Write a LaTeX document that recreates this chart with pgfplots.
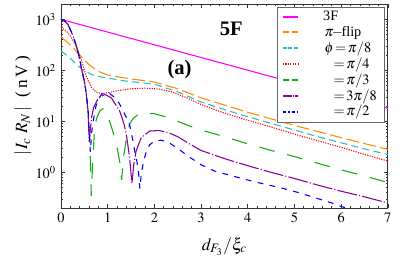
\documentclass[border=0pt]{standalone}
\usepackage{mathptmx}
\usepackage{fontspec}
\setmainfont{Liberation Serif}
\usepackage{pgfplots}
\pgfplotsset{compat=1.18}
\definecolor{cmag}{RGB}{255,0,255}
\definecolor{corange}{RGB}{255,140,0}
\definecolor{ccyan}{RGB}{40,190,200}
\definecolor{cred}{RGB}{255,0,0}
\definecolor{cgreen}{RGB}{20,170,20}
\definecolor{cpurple}{RGB}{140,0,150}
\definecolor{cblue}{RGB}{0,0,255}
\begin{document}
\begin{tikzpicture}
\path[use as bounding box] (-42.6pt,-39pt) rectangle (247.5pt,145.4pt);
\begin{axis}[
  at={(0,0)}, anchor=south west,
  scale only axis, width=228.5pt, height=142.6pt,
  xmin=0, xmax=7, ymin=0.2, ymax=2000,
  ymode=log,
  xtick={0,1,2,3,4,5,6,7},
  minor x tick num=4,
  tick align=inside,
  major tick length=3pt, minor tick length=1.5pt,
  tick style={black!80, line width=0.4pt},
  axis line style={black!80, line width=0.6pt},
  xlabel={$d_{F_3}/\xi_c$},
  ylabel={$|\,I_c\;R_N\,|$\;\;(\,n\,V\,)},
  xlabel style={font=\large, yshift=-3pt},
  ylabel style={font=\large, yshift=-4pt},
  tick label style={font=\normalsize},
  legend style={at={(1,1)}, anchor=north east, xshift=-2pt, yshift=-2pt,
    draw=black!60, font=\normalsize, row sep=-1.8pt, inner ysep=1pt, inner xsep=3.5pt},
  legend cell align=left,
  legend image code/.code={\draw[#1, line width=1.15pt] (0pt,0pt) -- (10.5pt,0pt);},
  every axis plot/.append style={line width=0.75pt},
]
% 3F
\addplot[color=cmag, solid] coordinates {(0,1000) (7,18)};
\addlegendentry{\hspace{15pt}3F}
% pi-flip
\addplot[color=corange, dash pattern=on 9pt off 3pt,
  legend image post style={dash pattern=on 4.5pt off 1.5pt}] coordinates {
(0,457) (0.2,316) (0.4,200) (0.6,129) (0.8,95.5) (1.0,81.3) (1.3,72.4) (1.6,66.1)
(2.0,58.9) (2.5,43.7) (3.0,28.8) (3.5,20.9) (4.0,15.1) (4.5,11.2) (5.0,8.32)
(5.5,6.31) (6.0,4.79) (6.5,3.67) (7.0,2.82)};
\addlegendentry{\hspace{16pt}$\pi\!-\!$flip}
% phi = pi/8
\addplot[color=ccyan, dash pattern=on 5pt off 3pt,
  legend image post style={dash pattern=on 2.6pt off 1.2pt}] coordinates {
(0,240) (0.15,191) (0.3,141) (0.45,105) (0.65,83.2) (0.8,75.9) (1.0,70.8) (1.3,63.1)
(1.6,58.9) (2.0,53.7) (2.5,38.0) (3.0,24.0) (3.5,17.0) (4.0,12.3) (4.5,9.12)
(5.0,6.76) (5.5,5.01) (6.0,3.80) (6.5,2.88) (7.0,2.24)};
\addlegendentry{\hspace{16pt}$\phi\!=\!\pi/8$}
% pi/4
\addplot[color=cred, dash pattern=on 0.8pt off 0.9pt] coordinates {
(0,692) (0.15,550) (0.3,339) (0.43,166) (0.54,77.6) (0.65,46.8) (0.75,38.0) (0.85,35.1)
(1.0,36.3) (1.2,39.8) (1.5,43.5) (1.8,44.7) (2.1,43.0) (2.4,37.2) (2.7,28.8)
(3.0,21.4) (3.5,14.5) (4.0,10.5) (4.5,7.76) (5.0,5.62) (5.5,4.17) (6.0,3.09)
(6.5,2.26) (7.0,1.66)};
\addlegendentry{\hspace{16pt}\phantom{$\phi$}$=\!\pi/4$}
% pi/3
\addplot[color=cgreen, dash pattern=on 11pt off 9pt,
  legend image post style={dash pattern=on 4.2pt off 2pt}] coordinates {
(0,1000) (0.05,966) (0.1,891) (0.15,794) (0.2,631) (0.26,468) (0.33,302) (0.38,204)
(0.43,120) (0.5,61.7) (0.54,36.3) (0.58,15.8) (0.62,3.98) (0.65,0.347) (0.68,1.58)
(0.72,7.08) (0.76,11.2) (0.83,15.8) (0.9,17.8) (0.97,15.1) (1.05,9.55) (1.12,6.03)
(1.2,3.16) (1.26,1.58) (1.3,0.708) (1.34,2.0) (1.4,4.47) (1.47,8.91) (1.55,11.5)
(1.65,13.5) (1.8,14.5) (2.0,14.1) (2.2,12.6) (2.5,10.0) (2.75,8.13) (3.0,6.76)
(3.5,5.01) (4.0,3.63) (4.5,2.69) (5.0,2.04) (5.5,1.51) (6.0,1.12) (6.5,0.851)
(7.0,0.631)};
\addlegendentry{\hspace{16pt}\phantom{$\phi$}$=\!\pi/3$}
% 3pi/8
\addplot[color=cpurple, dash pattern=on 14pt off 1.5pt on 0.8pt off 1.5pt,
  legend image post style={dash pattern=on 6pt off 0.8pt on 0.6pt off 0.8pt}] coordinates {
(0,1000) (0.05,966) (0.1,891) (0.15,794) (0.2,631) (0.26,468) (0.33,302) (0.38,204)
(0.43,120) (0.5,61.7) (0.54,36.3) (0.58,15.8) (0.605,3.98) (0.63,7.08) (0.66,12.6)
(0.7,18.6) (0.8,28.8) (0.94,33.9) (1.08,28.8) (1.26,15.8) (1.35,8.91) (1.4,5.62)
(1.47,1.95) (1.52,0.603) (1.56,1.41) (1.61,2.63) (1.72,4.79) (1.9,6.46) (2.1,6.61)
(2.3,6.03) (2.5,5.01) (2.75,3.63) (3.0,2.69) (3.5,1.86) (4.0,1.35) (4.5,1.0)
(5.0,0.759) (5.5,0.562) (6.0,0.427) (6.5,0.331) (7.0,0.251)};
\addlegendentry{\hspace{16pt}\phantom{$\phi$}$=\!3\pi/8$\hspace{6pt}}
% pi/2
\addplot[color=cblue, dash pattern=on 4pt off 4.5pt,
  legend image post style={dash pattern=on 2pt off 1.2pt}] coordinates {
(0,1000) (0.05,966) (0.1,891) (0.15,794) (0.2,631) (0.26,468) (0.33,302) (0.38,204)
(0.43,120) (0.5,61.7) (0.54,36.3) (0.58,17.8) (0.63,2.51) (0.66,6.31) (0.7,11.2)
(0.75,20.0) (0.8,26.9) (0.87,33.9) (0.96,36.3) (1.05,34.7) (1.15,29.5) (1.25,22.4)
(1.4,12.0) (1.47,8.71) (1.52,5.25) (1.58,2.63) (1.63,1.58) (1.66,1.05) (1.69,0.479)
(1.72,0.912) (1.76,1.48) (1.83,2.63) (1.9,3.47) (2.0,4.07) (2.15,4.27) (2.3,3.89)
(2.5,2.95) (2.75,2.0) (3.0,1.41) (3.3,1.05) (3.67,0.851) (4.0,0.708) (4.4,0.575)
(4.7,0.501) (5.1,0.398) (5.45,0.316) (5.8,0.251) (6.0,0.214) (6.3,0.178)};
\addlegendentry{\hspace{16pt}\phantom{$\phi$}$=\!\pi/2$}
\node[font=\Large\bfseries] at (axis cs:3.65,650) {5F};
\node[font=\Large\bfseries] at (axis cs:2.54,103) {(a)};
\end{axis}
\end{tikzpicture}
\end{document}
